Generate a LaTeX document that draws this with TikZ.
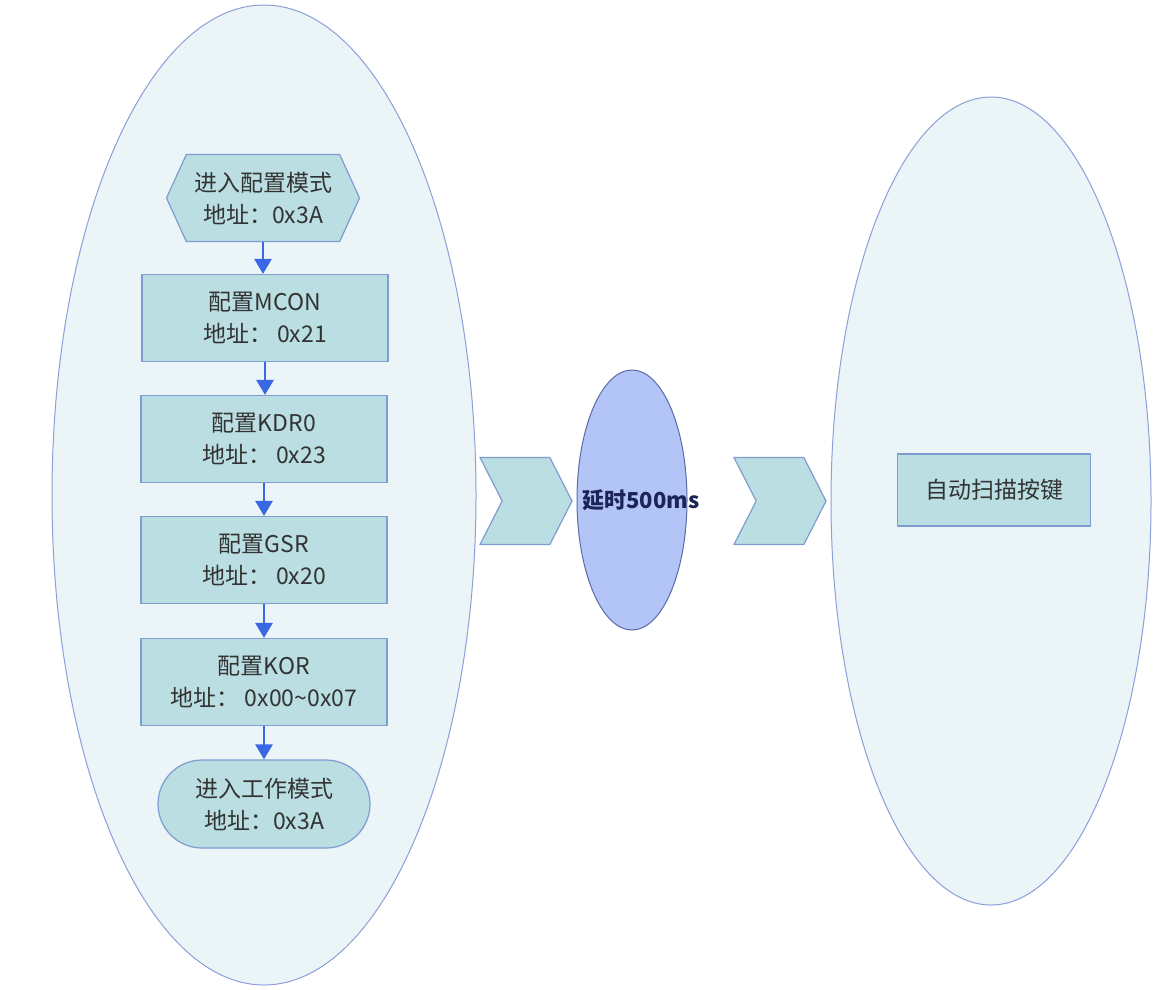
\documentclass[tikz,border=0pt]{standalone}
\usepackage{fontspec}
\setmainfont{Noto Sans CJK SC}
\usetikzlibrary{shapes.geometric,shapes.symbols,arrows.meta,positioning}
\definecolor{ellfill}{HTML}{EBF4F7}
\definecolor{ellline}{HTML}{8C9FD8}
\definecolor{boxfill}{HTML}{BADEE2}
\definecolor{boxline}{HTML}{7E9CD2}
\definecolor{midfill}{HTML}{B3C5F6}
\definecolor{midline}{HTML}{5D6AA8}
\definecolor{flowblue}{HTML}{3A68E4}
\definecolor{txtgray}{HTML}{333333}
\definecolor{navy}{HTML}{1C2358}
\begin{document}
\begin{tikzpicture}[x=1pt, y=-1pt, line join=round, >={Triangle[width=17pt,length=15pt]}, font=\fontsize{23}{32}\selectfont]
	\tikzset{every node/.style={text=txtgray, align=center, inner sep=0pt},
		box/.style={draw=boxline, fill=boxfill, line width=1.2pt, minimum width=246pt, minimum height=87pt},
		chev/.style={draw=boxline, fill=boxfill, line width=1.2pt, shape=signal, signal from=west, signal to=east, signal pointer angle=126, minimum width=92pt, minimum height=87pt},
		flow/.style={->, draw=flowblue, fill=flowblue, line width=2.8pt}}
	\useasboundingbox (0,0) rectangle (1153,989);
	%Ellipses
	\draw[draw=ellline, fill=ellfill, line width=1pt] (264,495) ellipse [x radius=212pt, y radius=490pt];
	\draw[draw=ellline, fill=ellfill, line width=1pt] (991,501) ellipse [x radius=160pt, y radius=404pt];
	%Left steps
	\node[box, shape=signal, signal to=west and east, signal pointer angle=131, minimum width=193pt] (cfg) at (263,198) {进入配置模式\\地址：0x3A};
	\node[box] (mcon) at (265,318) {配置MCON\\地址： 0x21};
	\node[box] (kdr) at (264,439) {配置KDR0\\地址： 0x23};
	\node[box] (gsr) at (264,560) {配置GSR\\地址： 0x20};
	\node[box] (kor) at (264,682) {配置KOR\\地址： 0x00\textasciitilde0x07};
	\node[box, rounded corners=44pt, minimum width=212pt, minimum height=88pt] (work) at (264,804) {进入工作模式\\地址：0x3A};
	\foreach \a/\b in {cfg/mcon, mcon/kdr, kdr/gsr, gsr/kor, kor/work}
		\draw[flow] (\a.south) -- (\a.south |- \b.north);
	%Middle
	\node[chev] (chevA) at (526,501) {};
	\node[ellipse, draw=midline, fill=midfill, line width=1pt, minimum width=110pt, minimum height=260pt] (delay) at (632,500) {};
	\node[text=navy, font=\fontsize{22}{30}\selectfont\bfseries] (delaytxt) at ([xshift=9pt]delay.center) {延时500ms};
	\node[chev] (chevB) at (780,501) {};
	%Right
	\node[box, minimum width=193pt, minimum height=72pt] (scan) at (994,490) {自动扫描按键};
\end{tikzpicture}
\end{document}
